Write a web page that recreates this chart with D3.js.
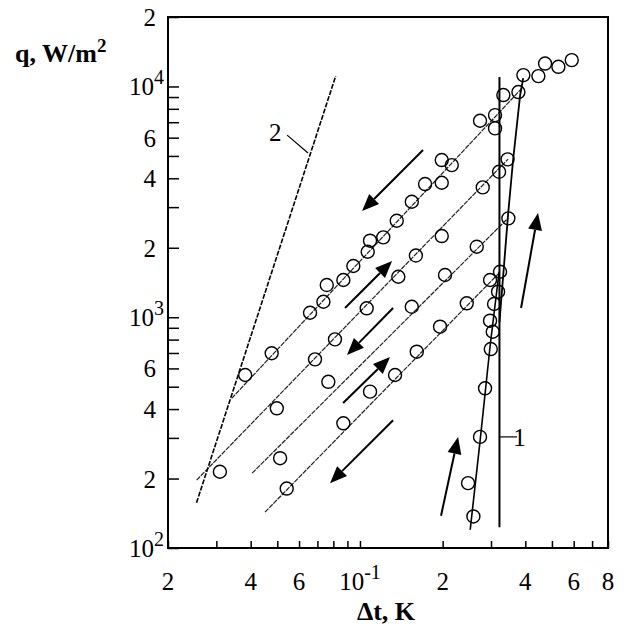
<!DOCTYPE html>
<html><head><meta charset="utf-8">
<script src="https://cdn.jsdelivr.net/npm/d3@7/dist/d3.min.js"></script>
<style>body{margin:0;background:#fff}svg{display:block}text{font-family:"Liberation Serif","Times New Roman",serif;fill:#000}</style>
</head><body><svg id="c" width="633" height="627"></svg>
<script>
// ---- data: Δt (K) , q (W/m²) ----
const branch1 = [[0.0382,562],[0.0477,698],[0.0658,1046],[0.0736,1167],[0.0757,1379],[0.0870,1450],[0.0946,1667],[0.1067,1922],[0.1088,2146],[0.1216,2219],[0.1361,2619],[0.1544,3165],[0.1726,3776],[0.1985,3826],[0.1985,4798],[0.2159,4564],[0.2736,7102],[0.3103,7516],[0.3103,6582],[0.3327,9178],[0.3775,9456],[0.3935,11200],[0.4463,11090],[0.4720,12570],[0.5277,12170],[0.5903,13010]];
const branch2 = [[0.0309,214],[0.0498,403],[0.0686,657],[0.0811,802],[0.1058,1093],[0.1379,1498],[0.1598,1851],[0.1985,2248],[0.2799,3653],[0.3210,4269],[0.3447,4833]];
const branch3 = [[0.0512,245],[0.0767,525],[0.1544,1110],[0.2040,1524],[0.2662,2021],[0.3470,2682]];
const branch4 = [[0.0541,181],[0.0870,347],[0.1088,476],[0.1342,562],[0.1610,709],[0.1957,910],[0.2448,1149],[0.2976,1450],[0.3236,1574]];
const riseBranch = [[0.2588,137],[0.2475,191],[0.2736,303],[0.2854,492],[0.2994,728],[0.3044,865],[0.2976,966],[0.3078,1141],[0.3183,1290]];

const fit1 = [[0.0341,445],[0.3892,9840]];
const fit2 = [[0.02544,197],[0.3462,4846]];
const fit3 = [[0.0405,211],[0.3462,2690]];
const fit4 = [[0.0451,143],[0.3236,1570]];
const riseLeftLine = [[0.252,120],[0.274,294],[0.298,758],[0.321,1570]];
const riseRightLine = [[0.322,950],[0.346,2770],[0.361,4800],[0.383,9180],[0.393,10870]];
const curve1 = [[0.322,123],[0.322,11000]];
const curve2 = [[0.0254,157],[0.0816,11100]];

const arrowFrom = [[0.1697,5303],[0.0882,1096],[0.1320,1096],[0.0868,425],[0.1320,358],[0.1973,138],[0.3860,1096]];
const arrowTo   = [[0.1018,2885],[0.1309,1752],[0.0897,686],[0.1287,672],[0.0778,191],[0.2276,303],[0.4450,2828]];

const curveLabels = ["1","2"];
const curveLabelPos = [[0.381,303],[0.0491,6344]];
const leaderFrom = [[0.322,303],[0.0543,6156]];
const leaderTo = [[0.3732,303],[0.0647,5145]];

const xTicks = [0.02,0.03,0.04,0.05,0.06,0.07,0.08,0.09,0.1,0.2,0.3,0.4,0.5,0.6,0.7,0.8];
const xLabelValues = [0.02,0.04,0.06,0.1,0.2,0.4,0.6,0.8];
const xLabelTexts = ["2","4","6","10^-1","2","4","6","8"];
const yTicks = [100,200,300,400,500,600,700,800,900,1000,2000,3000,4000,5000,6000,7000,8000,9000,10000,20000];
const yLabelValues = [100,200,400,600,1000,2000,4000,6000,10000,20000];
const yLabelTexts = ["10^2","2","4","6","10^3","2","4","6","10^4","2"];

// ---- chart ----
const M = {left:168,right:608,top:17,bottom:548};
const x = d3.scaleLog().domain([0.02,0.8]).range([M.left,M.right]);
const y = d3.scaleLog().domain([100,20000]).range([M.bottom,M.top]);
const svg = d3.select("#c");
const line = d3.line().x(d=>x(d[0])).y(d=>y(d[1]));

// axes (ticks inward)
svg.append("g").attr("transform",`translate(${M.left},0)`)
  .call(d3.axisLeft(y).tickValues(yTicks).tickSize(-11).tickFormat(""))
  .call(g=>g.select(".domain").remove())
  .selectAll("line").attr("stroke","#000").attr("stroke-width",1.5);
svg.append("g").attr("transform",`translate(0,${M.bottom})`)
  .call(d3.axisBottom(x).tickValues(xTicks).tickSize(-7).tickFormat(""))
  .call(g=>g.select(".domain").remove())
  .selectAll("line").attr("stroke","#000").attr("stroke-width",1.5);
svg.append("rect").attr("x",M.left).attr("y",M.top)
  .attr("width",M.right-M.left).attr("height",M.bottom-M.top)
  .attr("fill","none").attr("stroke","#000").attr("stroke-width",2);

function addLabel(sel, txt){
  const p = txt.split("^");
  sel.append("tspan").text(p[0]);
  if(p[1]) sel.append("tspan").attr("font-size",20).attr("dy",-11).text(p[1]);
}
yLabelValues.forEach((v,i)=>{
  const isPow = yLabelTexts[i].includes("^");
  const t = svg.append("text").attr("x",isPow?164:156).attr("y",y(v)+9)
    .attr("text-anchor","end").attr("font-size",25);
  addLabel(t,yLabelTexts[i]);
});
xLabelValues.forEach((v,i)=>{
  const t = svg.append("text").attr("x",x(v)).attr("y",590)
    .attr("text-anchor","middle").attr("font-size",25);
  addLabel(t,xLabelTexts[i]);
});

// axis titles
const qt = svg.append("text").attr("x",15).attr("y",62).attr("font-size",26).attr("font-weight","bold");
qt.append("tspan").text("q, W/m");
qt.append("tspan").attr("font-size",19).attr("dy",-10).text("2");
svg.append("text").attr("x",386).attr("y",620).attr("text-anchor","middle")
  .attr("font-size",26).attr("font-weight","bold").text("\u0394t, K");

// lines
const g = svg.append("g").attr("fill","none").attr("stroke","#000");
[fit1,fit2,fit3,fit4].forEach(d=>g.append("path").attr("d",line(d)).attr("stroke","#222").attr("stroke-width",1.2).attr("stroke-dasharray","5,1"));
g.append("path").attr("d",line(curve2)).attr("stroke-width",1.6).attr("stroke-dasharray","5,1.5");
g.append("path").attr("d",line(curve1)).attr("stroke-width",2);
g.append("path").attr("d",line(riseLeftLine)).attr("stroke-width",1.6);
g.append("path").attr("d",line(riseRightLine)).attr("stroke-width",1.8);

// points
[branch1,branch2,branch3,branch4,riseBranch].forEach(s=>{
  g.selectAll(null).data(s).enter().append("circle")
    .attr("cx",d=>x(d[0])).attr("cy",d=>y(d[1])).attr("r",6.5).attr("stroke-width",1.4);
});

// arrows
arrowFrom.forEach((a,i)=>{
  const b = arrowTo[i];
  const x0=x(a[0]),y0=y(a[1]),x1=x(b[0]),y1=y(b[1]);
  const ang=Math.atan2(y1-y0,x1-x0), L=17, Wd=7;
  const bx=x1-L*Math.cos(ang), by=y1-L*Math.sin(ang);
  svg.append("line").attr("x1",x0).attr("y1",y0).attr("x2",bx).attr("y2",by)
    .attr("stroke","#000").attr("stroke-width",2);
  const pts=[[x1,y1],[bx+Wd*Math.sin(ang),by-Wd*Math.cos(ang)],[bx-Wd*Math.sin(ang),by+Wd*Math.cos(ang)]];
  svg.append("polygon").attr("points",pts.map(p=>p.join(",")).join(" ")).attr("fill","#000");
});

// curve labels
curveLabels.forEach((t,i)=>{
  svg.append("line").attr("x1",x(leaderFrom[i][0])).attr("y1",y(leaderFrom[i][1]))
    .attr("x2",x(leaderTo[i][0])).attr("y2",y(leaderTo[i][1])).attr("stroke","#000").attr("stroke-width",1.2);
  svg.append("text").attr("x",x(curveLabelPos[i][0])).attr("y",y(curveLabelPos[i][1])+9)
    .attr("text-anchor","middle").attr("font-size",25).text(t);
});
</script></body></html>
